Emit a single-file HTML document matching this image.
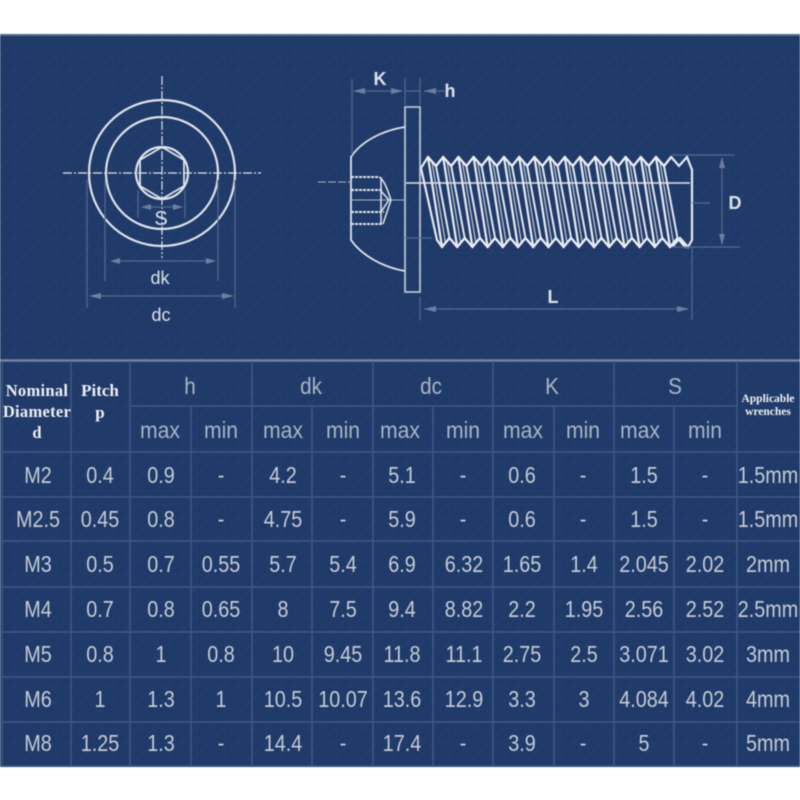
<!DOCTYPE html>
<html><head><meta charset="utf-8"><style>
html,body{margin:0;padding:0;background:#fff}
svg{display:block;filter:blur(.45px)}
text{font-family:"Liberation Sans",sans-serif}
.v text{font-size:23px;fill:#c6ccd6;text-anchor:middle}
.h text{font-size:23px;fill:#aab5c6;text-anchor:middle}
.s text{font-family:"Liberation Serif",serif;font-weight:bold;fill:#eef0f4;text-anchor:middle}
.d text{font-size:18px;fill:#dde1e8;text-anchor:middle}
.b text{font-weight:bold}
.g{stroke:#56698d;stroke-width:1.2;fill:none}
.w{stroke:#dfe3ea;fill:none}
.t line{stroke:#3f5681;stroke-width:1.6}
</style></head><body>
<svg width="800" height="800" viewBox="0 0 800 800" xmlns="http://www.w3.org/2000/svg">
<defs>
<pattern id="grid" width="14" height="14" patternUnits="userSpaceOnUse"><rect width="14" height="14" fill="#1f3a69"/><path d="M0 14L14 0" stroke="#233f6e" stroke-width="1"/><path d="M0 .5H14M.5 0V14" stroke="#223d6c" stroke-width="1"/></pattern>
<g id="th" fill="none" stroke-linecap="round">
<path d="M428 157L442 247" stroke="#e6e9ee" stroke-width="2.300"/>
<path d="M436 166L449.500 238" stroke="#e6e9ee" stroke-width="2"/>
<path d="M432 162L445.500 243" stroke="#c2cad6" stroke-width="1.200"/>
<path d="M428 157L436 166L443.200 157" stroke="#eef0f4" stroke-width="2.300" stroke-linejoin="round"/>
<path d="M442 247L449.500 238L457.200 247" stroke="#eef0f4" stroke-width="2.300" stroke-linejoin="round"/>
</g>
</defs>
<rect x="0" y="34" width="800" height="733" fill="url(#grid)"/>
<path d="M0 35H800" stroke="#56688a" stroke-width="2"/>
<path d="M0 360.500H800" stroke="#77849c" stroke-width="2.500"/>

<!-- table grid -->
<g class="t">
<line x1="2" y1="361" x2="2" y2="766"/><line x1="71" y1="361" x2="71" y2="766"/><line x1="130" y1="361" x2="130" y2="766"/>
<line x1="191" y1="406" x2="191" y2="766"/><line x1="252" y1="361" x2="252" y2="766"/><line x1="312" y1="406" x2="312" y2="766"/>
<line x1="373" y1="361" x2="373" y2="766"/><line x1="433" y1="406" x2="433" y2="766"/><line x1="493" y1="361" x2="493" y2="766"/>
<line x1="554" y1="406" x2="554" y2="766"/><line x1="614" y1="361" x2="614" y2="766"/><line x1="674" y1="406" x2="674" y2="766"/>
<line x1="737" y1="361" x2="737" y2="766"/>
<line x1="130" y1="406" x2="737" y2="406"/>
<line x1="2" y1="452" x2="800" y2="452"/><line x1="2" y1="497" x2="800" y2="497"/><line x1="2" y1="541" x2="800" y2="541"/>
<line x1="2" y1="587" x2="800" y2="587"/><line x1="2" y1="632" x2="800" y2="632"/><line x1="2" y1="677" x2="800" y2="677"/>
<line x1="2" y1="722" x2="800" y2="722"/><line x1="0" y1="766" x2="800" y2="766"/>
</g>

<!-- left view -->
<g class="w">
<circle cx="162" cy="173" r="73" stroke-width="2.200"/>
<circle cx="162" cy="173" r="56" stroke-width="2.200"/>
<circle cx="162" cy="173" r="26" stroke-width="2.200"/>
<path d="M162 147L184 160V186L162 199L140 186V160Z" stroke-width="1.800"/>
<path d="M63 173H261M162 76V258" stroke-width="1.200" stroke-dasharray="9 2 2 2"/>
</g>
<g class="g">
<path d="M138 190V218M185 190V218M105 180V281M218 180V281M87 180V308M235 180V308"/>
<path d="M142 207H182M113 261H214M91 296H232"/>
</g>
<g fill="#6d7f9e">
<path d="M141 207L151 204V210ZM183 207L173 204V210ZM110 261L120 258V264ZM216 261L206 258V264ZM89 296L101 293V299ZM234 296L222 293V299Z"/>
</g>
<g class="d">
<text x="161" y="225" style="font-size:20px">S</text>
<text x="160" y="284">dk</text>
<text x="161" y="321">dc</text>
</g>

<!-- side view -->
<g class="w" stroke-width="1.800">
<path d="M405 107H420V292H405Z" stroke="#b9c2d0"/>
<path d="M405 127C385 130 362 140 351 157V240C362 256 385 268 405 271"/>
<path d="M351 177H379M351 190H382M351 212H384M351 224H382" stroke-width="2" stroke-dasharray="3 1"/>
<path d="M351 200H405" stroke-width="1.100" stroke="#aab4c4"/>
<path d="M379 177C384 180 387 188 391 200L383 224M380 190L389 200L381 212M381 177V224" stroke-width="1.500"/>
<path d="M318 182H351" stroke-width="1" stroke-dasharray="8 2" stroke="#aab4c4"/>
<path d="M406 183H690" stroke-width="1.400" stroke="#dfe3ea"/>
</g>
<path d="M421 168L428 157M421 168L437 240L442 247" stroke="#e6e9ee" stroke-width="2.200" fill="none"/>
<use href="#th"/><use href="#th" x="15.200"/><use href="#th" x="30.400"/><use href="#th" x="45.600"/><use href="#th" x="60.800"/><use href="#th" x="76"/>
<use href="#th" x="91.200"/><use href="#th" x="106.400"/><use href="#th" x="121.600"/><use href="#th" x="136.800"/><use href="#th" x="152"/><use href="#th" x="167.200"/>
<use href="#th" x="182.400"/><use href="#th" x="197.600"/><use href="#th" x="212.800"/><use href="#th" x="228"/>
<path d="M671.200 157L679 166L687 157L692 170V240L688 247L680 238L672 247" stroke="#e6e9ee" stroke-width="2.200" fill="none"/>
<g class="g">
<path d="M352 79V155M405 78V105M420 78V105M420 297V320M405 238H432M692 247V320M692 203H710"/>
<path d="M355 91H402M405 91H420M424 91H445M424 309H688"/>
<path d="M672 155H735M672 247H740M722 158V244"/>
</g>
<g fill="#6d7f9e">
<path d="M353 91L365 88V94ZM403 91L391 88V94ZM424 91L436 88V94ZM424 309L436 306V312ZM689 309L677 306V312ZM722 157L719 168H725ZM722 245L719 234H725Z"/>
</g>
<g class="d b">
<text x="380" y="85">K</text>
<text x="450" y="97">h</text>
<text x="735" y="209">D</text>
<text x="553" y="303">L</text>
</g>

<!-- table headers -->
<g class="s">
<text x="37" y="396" style="font-size:16.500px;letter-spacing:.3px">Nominal</text>
<text x="37" y="417" style="font-size:16.500px;letter-spacing:.3px">Diameter</text>
<text x="37" y="438" style="font-size:16.500px">d</text>
<text x="100" y="396" style="font-size:17px">Pitch</text>
<text x="100" y="418" style="font-size:17px">p</text>
<text x="768" y="402" style="font-size:11.500px">Applicable</text>
<text x="768" y="415" style="font-size:11.500px">wrenches</text>
</g>
<g class="h">
<text transform="translate(190 394) scale(.9 1)">h</text>
<text transform="translate(311 394) scale(.9 1)">dk</text>
<text transform="translate(431 394) scale(.9 1)">dc</text>
<text transform="translate(552 394) scale(.9 1)">K</text>
<text transform="translate(675 394) scale(.9 1)">S</text>
</g>
<g class="h">
<text transform="translate(160 438) scale(.92 1)">max</text><text transform="translate(221 438) scale(.92 1)">min</text>
<text transform="translate(283 438) scale(.92 1)">max</text><text transform="translate(343 438) scale(.92 1)">min</text>
<text transform="translate(400 438) scale(.92 1)">max</text><text transform="translate(463 438) scale(.92 1)">min</text>
<text transform="translate(523 438) scale(.92 1)">max</text><text transform="translate(583 438) scale(.92 1)">min</text>
<text transform="translate(640 438) scale(.92 1)">max</text><text transform="translate(705 438) scale(.92 1)">min</text>
</g>

<!-- values -->
<g class="v">
<text transform="translate(38 483) scale(.86 1)">M2</text><text transform="translate(100 483) scale(.86 1)">0.4</text><text transform="translate(161 483) scale(.86 1)">0.9</text><text transform="translate(221 483) scale(.86 1)">-</text><text transform="translate(283 483) scale(.86 1)">4.2</text><text transform="translate(343 483) scale(.86 1)">-</text><text transform="translate(402 483) scale(.86 1)">5.1</text><text transform="translate(463 483) scale(.86 1)">-</text><text transform="translate(522 483) scale(.86 1)">0.6</text><text transform="translate(583 483) scale(.86 1)">-</text><text transform="translate(644 483) scale(.86 1)">1.5</text><text transform="translate(705 483) scale(.86 1)">-</text><text transform="translate(768 483) scale(.86 1)">1.5mm</text>

<text transform="translate(38 527) scale(.86 1)">M2.5</text><text transform="translate(100 527) scale(.86 1)">0.45</text><text transform="translate(161 527) scale(.86 1)">0.8</text><text transform="translate(221 527) scale(.86 1)">-</text><text transform="translate(283 527) scale(.86 1)">4.75</text><text transform="translate(343 527) scale(.86 1)">-</text><text transform="translate(402 527) scale(.86 1)">5.9</text><text transform="translate(463 527) scale(.86 1)">-</text><text transform="translate(522 527) scale(.86 1)">0.6</text><text transform="translate(583 527) scale(.86 1)">-</text><text transform="translate(644 527) scale(.86 1)">1.5</text><text transform="translate(705 527) scale(.86 1)">-</text><text transform="translate(768 527) scale(.86 1)">1.5mm</text>

<text transform="translate(38 572) scale(.86 1)">M3</text><text transform="translate(100 572) scale(.86 1)">0.5</text><text transform="translate(161 572) scale(.86 1)">0.7</text><text transform="translate(221 572) scale(.86 1)">0.55</text><text transform="translate(283 572) scale(.86 1)">5.7</text><text transform="translate(343 572) scale(.86 1)">5.4</text><text transform="translate(402 572) scale(.86 1)">6.9</text><text transform="translate(464 572) scale(.86 1)">6.32</text><text transform="translate(522 572) scale(.86 1)">1.65</text><text transform="translate(584 572) scale(.86 1)">1.4</text><text transform="translate(644 572) scale(.86 1)">2.045</text><text transform="translate(705 572) scale(.86 1)">2.02</text><text transform="translate(768 572) scale(.86 1)">2mm</text>

<text transform="translate(38 617) scale(.86 1)">M4</text><text transform="translate(100 617) scale(.86 1)">0.7</text><text transform="translate(161 617) scale(.86 1)">0.8</text><text transform="translate(221 617) scale(.86 1)">0.65</text><text transform="translate(283 617) scale(.86 1)">8</text><text transform="translate(343 617) scale(.86 1)">7.5</text><text transform="translate(402 617) scale(.86 1)">9.4</text><text transform="translate(464 617) scale(.86 1)">8.82</text><text transform="translate(522 617) scale(.86 1)">2.2</text><text transform="translate(584 617) scale(.86 1)">1.95</text><text transform="translate(644 617) scale(.86 1)">2.56</text><text transform="translate(705 617) scale(.86 1)">2.52</text><text transform="translate(768 617) scale(.86 1)">2.5mm</text>

<text transform="translate(38 662) scale(.86 1)">M5</text><text transform="translate(100 662) scale(.86 1)">0.8</text><text transform="translate(161 662) scale(.86 1)">1</text><text transform="translate(221 662) scale(.86 1)">0.8</text><text transform="translate(283 662) scale(.86 1)">10</text><text transform="translate(343 662) scale(.86 1)">9.45</text><text transform="translate(402 662) scale(.86 1)">11.8</text><text transform="translate(464 662) scale(.86 1)">11.1</text><text transform="translate(522 662) scale(.86 1)">2.75</text><text transform="translate(584 662) scale(.86 1)">2.5</text><text transform="translate(644 662) scale(.86 1)">3.071</text><text transform="translate(705 662) scale(.86 1)">3.02</text><text transform="translate(768 662) scale(.86 1)">3mm</text>

<text transform="translate(38 707) scale(.86 1)">M6</text><text transform="translate(100 707) scale(.86 1)">1</text><text transform="translate(161 707) scale(.86 1)">1.3</text><text transform="translate(221 707) scale(.86 1)">1</text><text transform="translate(283 707) scale(.86 1)">10.5</text><text transform="translate(343 707) scale(.86 1)">10.07</text><text transform="translate(402 707) scale(.86 1)">13.6</text><text transform="translate(464 707) scale(.86 1)">12.9</text><text transform="translate(522 707) scale(.86 1)">3.3</text><text transform="translate(584 707) scale(.86 1)">3</text><text transform="translate(644 707) scale(.86 1)">4.084</text><text transform="translate(705 707) scale(.86 1)">4.02</text><text transform="translate(768 707) scale(.86 1)">4mm</text>

<text transform="translate(38 751) scale(.86 1)">M8</text><text transform="translate(100 751) scale(.86 1)">1.25</text><text transform="translate(161 751) scale(.86 1)">1.3</text><text transform="translate(221 751) scale(.86 1)">-</text><text transform="translate(283 751) scale(.86 1)">14.4</text><text transform="translate(343 751) scale(.86 1)">-</text><text transform="translate(402 751) scale(.86 1)">17.4</text><text transform="translate(463 751) scale(.86 1)">-</text><text transform="translate(522 751) scale(.86 1)">3.9</text><text transform="translate(583 751) scale(.86 1)">-</text><text transform="translate(644 751) scale(.86 1)">5</text><text transform="translate(705 751) scale(.86 1)">-</text><text transform="translate(768 751) scale(.86 1)">5mm</text>
</g>
</svg>
</body></html>
